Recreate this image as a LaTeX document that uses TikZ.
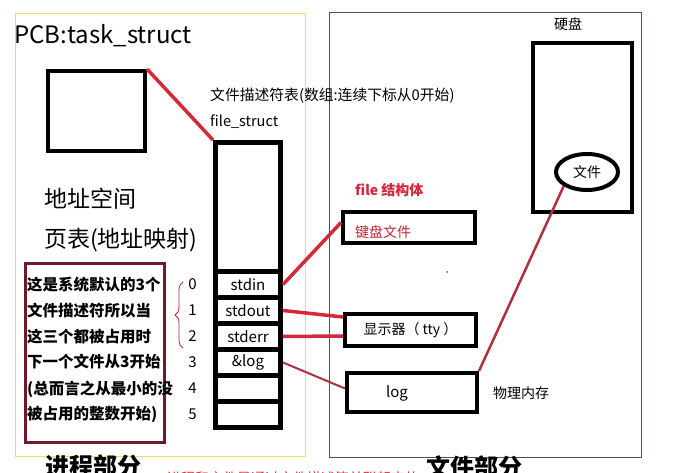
\documentclass[tikz,border=0pt]{standalone}
\usepackage{fontspec}
\setmainfont{Noto Sans CJK SC}
\usepackage{tikz}
\usetikzlibrary{positioning,shapes.geometric,decorations.pathreplacing}
\definecolor{procYellow}{HTML}{F0DF55}
\definecolor{fileFrame}{HTML}{4B5266}
\definecolor{linkRed}{HTML}{D3293B}
\definecolor{logRed}{HTML}{B0303F}
\definecolor{noteMaroon}{HTML}{6E1A28}

\begin{document}
\begin{tikzpicture}[
  x=1pt,
  y=-1pt,
  frame/.style={draw, line width=1pt, inner sep=0pt},
  blk/.style={draw=black, line width=4pt, fill=white, inner sep=0pt},
  slotbox/.style={draw=black, line width=5pt, fill=white, inner sep=0pt,
    minimum width=65pt, minimum height=26pt, font=\fontsize{15}{15}\selectfont},
  idx/.style={font=\fontsize{15}{15}\selectfont, inner sep=0pt},
  txt/.style={font=\fontsize{14}{14}\selectfont, inner sep=0pt, anchor=west},
  big/.style={font=\fontsize{23}{23}\selectfont, inner sep=0pt, anchor=west},
  note/.style={font=\fontsize{15.5}{15.5}\selectfont\bfseries, inner sep=0pt, anchor=west},
  part/.style={font=\fontsize{24}{24}\selectfont\bfseries, inner sep=0pt, anchor=west},
  redlink/.style={draw=linkRed, line width=3.5pt},
  thinlink/.style={draw=logRed, line width=2pt}
]
\useasboundingbox[fill=white] (0,0) rectangle (697,473);

% two parts
\node[frame, draw=procYellow, minimum width=290pt, minimum height=442pt] (proc) at (160,235) {};
\node[frame, draw=fileFrame, minimum width=312pt, minimum height=444pt] (files) at (485,235) {};

% process side
\node[anchor=west, inner sep=0pt, font=\fontsize{24}{24}\selectfont] (pcb) at (14,36) {PCB:task\_struct};
\node[blk, minimum width=97pt, minimum height=80pt] (pcbbox) at (96.5,111) {};
\node[big] (addr) at (44,199) {地址空间};
\node[big] (pages) at (44,240) {页表(地址映射)};

\node[txt, font=\fontsize{14.8}{14.8}\selectfont] (fdtitle) at (210,96) {文件描述符表(数组:连续下标从0开始)};
\node[txt, font=\fontsize{14.5}{14.5}\selectfont] (fsname) at (210,122) {file\_struct};

\node[draw=black, line width=5pt, fill=white, minimum width=65pt, minimum height=285pt, inner sep=0pt] (fdtab) at (248,285) {};
\node[slotbox] (s0) at (248,284.5) {stdin};
\node[slotbox] (s1) at (248,310.5) {stdout};
\node[slotbox] (s2) at (248,336.5) {stderr};
\node[slotbox] (s3) at (248,362.5) {\&log};
\node[slotbox] (s4) at (248,388.5) {};
\node[slotbox] (s5) at (248,414.5) {};

\node[idx, left=16pt of s0] (i0) {0};
\node[idx, left=16pt of s1] (i1) {1};
\node[idx, left=16pt of s2] (i2) {2};
\node[idx, left=16pt of s3] (i3) {3};
\node[idx, left=16pt of s4] (i4) {4};
\node[idx, left=16pt of s5] (i5) {5};

\node[draw=noteMaroon, line width=3pt, minimum width=139pt, minimum height=179pt, inner sep=0pt] (notebox) at (95,353) {};
\node[note] (n1) at (27,285) {这是系统默认的3个};
\node[note] (n2) at (27,311) {文件描述符所以当};
\node[note] (n3) at (27,337) {这三个都被占用时};
\node[note] (n4) at (27,362) {下一个文件从3开始};
\node[note] (n5) at (27,389) {(总而言之从最小的没};
\node[note] (n6) at (27,414) {被占用的整数开始)};

\coordinate (bracetop) at (183,282);
\coordinate (bracebot) at (183,348);
\draw[draw=linkRed!85!black, line width=0.8pt, decorate, decoration={brace, amplitude=8pt}] (bracebot) -- (bracetop);

% file side
\node[txt, font=\fontsize{14}{14}\selectfont\bfseries, text=linkRed] (fstruct) at (355,190) {file 结构体};
\node[blk, minimum width=132pt, minimum height=31pt] (kbd) at (409,227.5) {};
\node[txt, text=linkRed!90!black] (kbdtext) at (355,232) {键盘文件};
\node[blk, minimum width=131pt, minimum height=32pt, font=\fontsize{14}{14}\selectfont] (disp) at (410.5,330) {显示器（ tty ）};
\node[blk, minimum width=130pt, minimum height=39pt] (logbox) at (412,392.5) {};
\node[font=\fontsize{15}{15}\selectfont, inner sep=0pt] (logtext) at (397,393) {log};
\node[txt] (mem) at (493,393) {物理内存};
\node[circle, fill=black, inner sep=0pt, minimum size=1.5pt] (dot) at (447,272) {};

\node[font=\fontsize{14}{14}\selectfont, inner sep=0pt] (disklabel) at (568,24) {硬盘};
\node[blk, minimum width=99pt, minimum height=169pt] (disk) at (582.5,127.5) {};
\node[ellipse, draw=black, line width=4pt, fill=white, minimum width=62pt, minimum height=36pt, inner sep=0pt,
  font=\fontsize{14}{14}\selectfont] (file) at (587,172) {文件};

% links
\draw[redlink] (pcbbox.north east) -- (fdtab.north west);
\draw[redlink] (s0.east) -- ([yshift=5pt]kbd.west);
\draw[redlink] (s1.east) -- ([yshift=13pt]disp.west);
\draw[redlink] (s2.east) -- ([yshift=-6pt]disp.west);
\draw[thinlink] (s3.east) -- ([yshift=4pt]logbox.west);
\draw[thinlink, line width=2.5pt] (logbox.north east) -- (file.south west);

% bottom captions
\node[part] (procpart) at (45,466) {进程部分};
\node[part] (filepart) at (426,467) {文件部分};
\node[anchor=west, inner sep=0pt, text=linkRed, font=\fontsize{14}{14}\selectfont] (linknote) at (167,478) {进程和文件是通过文件描述符关联起来的};
\end{tikzpicture}
\end{document}
